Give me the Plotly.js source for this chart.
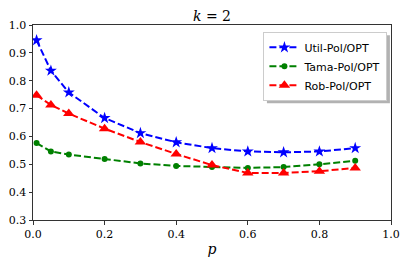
<!DOCTYPE html>
<html><head><meta charset="utf-8">
<script src="https://cdn.plot.ly/plotly-3.0.1.min.js"></script>
<style>html,body{margin:0;padding:0;background:#fff;}#c{width:407px;height:263px;}</style>
</head><body><div id="c"></div>
<script>
const pValues = [0.01, 0.05, 0.1, 0.2, 0.3, 0.4, 0.5, 0.6, 0.7, 0.8, 0.9];
const utilPol = [0.945, 0.836, 0.758, 0.666, 0.612, 0.579, 0.558, 0.546, 0.543, 0.546, 0.558];
const tamaPol = [0.576, 0.546, 0.535, 0.519, 0.503, 0.494, 0.490, 0.487, 0.490, 0.500, 0.513];
const robPol  = [0.748, 0.713, 0.682, 0.628, 0.580, 0.537, 0.497, 0.469, 0.469, 0.475, 0.487];
const seriesNames = ['Util-Pol/OPT', 'Tama-Pol/OPT', 'Rob-Pol/OPT'];
const xTicks = [0, 0.2, 0.4, 0.6, 0.8, 1.0];
const xTickLabels = ['0.0', '0.2', '0.4', '0.6', '0.8', '1.0'];
const yTicks = [0.3, 0.4, 0.5, 0.6, 0.7, 0.8, 0.9, 1.0];
const yTickLabels = ['0.3', '0.4', '0.5', '0.6', '0.7', '0.8', '0.9', '1.0'];

const dash = '7px,3px';
const traces = [
  {x: pValues, y: utilPol, name: seriesNames[0], mode: 'lines+markers', type: 'scatter',
   line: {color: '#0000ff', width: 2, dash: dash},
   marker: {symbol: 'star', size: 9, color: '#0000ff', line: {width: 0}}},
  {x: pValues, y: tamaPol, name: seriesNames[1], mode: 'lines+markers', type: 'scatter',
   line: {color: '#008000', width: 2, dash: dash},
   marker: {symbol: 'circle', size: 6, color: '#008000', line: {width: 0}}},
  {x: pValues, y: robPol, name: seriesNames[2], mode: 'lines+markers', type: 'scatter',
   line: {color: '#ff0000', width: 2, dash: dash},
   marker: {symbol: 'triangle-up', size: 10, color: '#ff0000', line: {width: 0}}}
];

const serif = 'DejaVu Serif';
const layout = {
  width: 407, height: 263,
  margin: {l: 33, r: 16, t: 25, b: 43, pad: 0},
  paper_bgcolor: '#fff', plot_bgcolor: '#fff',
  showlegend: true,
  font: {family: serif},
  title: {text: '<i>k</i> = 2', font: {family: serif, size: 14, color: '#000'},
          x: 0.5, xref: 'paper', xanchor: 'center', y: 1, yref: 'paper', yanchor: 'bottom', pad: {b: 4}},
  xaxis: {range: [0, 1], tickvals: xTicks, ticktext: xTickLabels,
          showgrid: false, zeroline: false, showline: true, mirror: true,
          linecolor: '#333', linewidth: 1, ticks: 'outside', ticklen: 3.5, tickwidth: 1, tickcolor: '#333',
          tickfont: {family: serif, size: 11, color: '#000'},
          title: {text: '<i>p</i>', font: {family: serif, size: 14, color: '#000'}, standoff: 4}},
  yaxis: {range: [0.3, 1], tickvals: yTicks, ticktext: yTickLabels,
          showgrid: false, zeroline: false, showline: true, mirror: true,
          linecolor: '#333', linewidth: 1, ticks: 'outside', ticklen: 3.5, tickwidth: 1, tickcolor: '#333',
          tickfont: {family: serif, size: 11, color: '#000'}},
  legend: {x: 0.99, xanchor: 'right', y: 0.965, yanchor: 'top',
           bgcolor: '#fff', bordercolor: '#cccccc', borderwidth: 1,
           font: {family: 'DejaVu Sans', size: 11, color: '#000'},
           tracegroupgap: 0, itemwidth: 30}
};
Plotly.newPlot('c', traces, layout, {staticPlot: true, displayModeBar: false}).then(function (gd) {
  const bg = gd.querySelector('.legend .bg');
  const svg = gd.querySelector('.main-svg');
  if (!bg || !svg) return;
  const r = bg.getBoundingClientRect();
  const s = svg.getBoundingClientRect();
  const fl = gd._fullLayout;
  const px = function (x) { return (x - s.left - fl.margin.l) / fl._size.w; };
  const py = function (y) { return 1 - (y - s.top - fl.margin.t) / fl._size.h; };
  return Plotly.relayout(gd, {shapes: [{type: 'rect', xref: 'paper', yref: 'paper', layer: 'above',
    x0: px(r.left + 3), x1: px(r.right + 3), y0: py(r.bottom + 3), y1: py(r.top + 3),
    fillcolor: 'rgba(0,0,0,0.3)', line: {width: 0}}]});
});
</script>
</body></html>
